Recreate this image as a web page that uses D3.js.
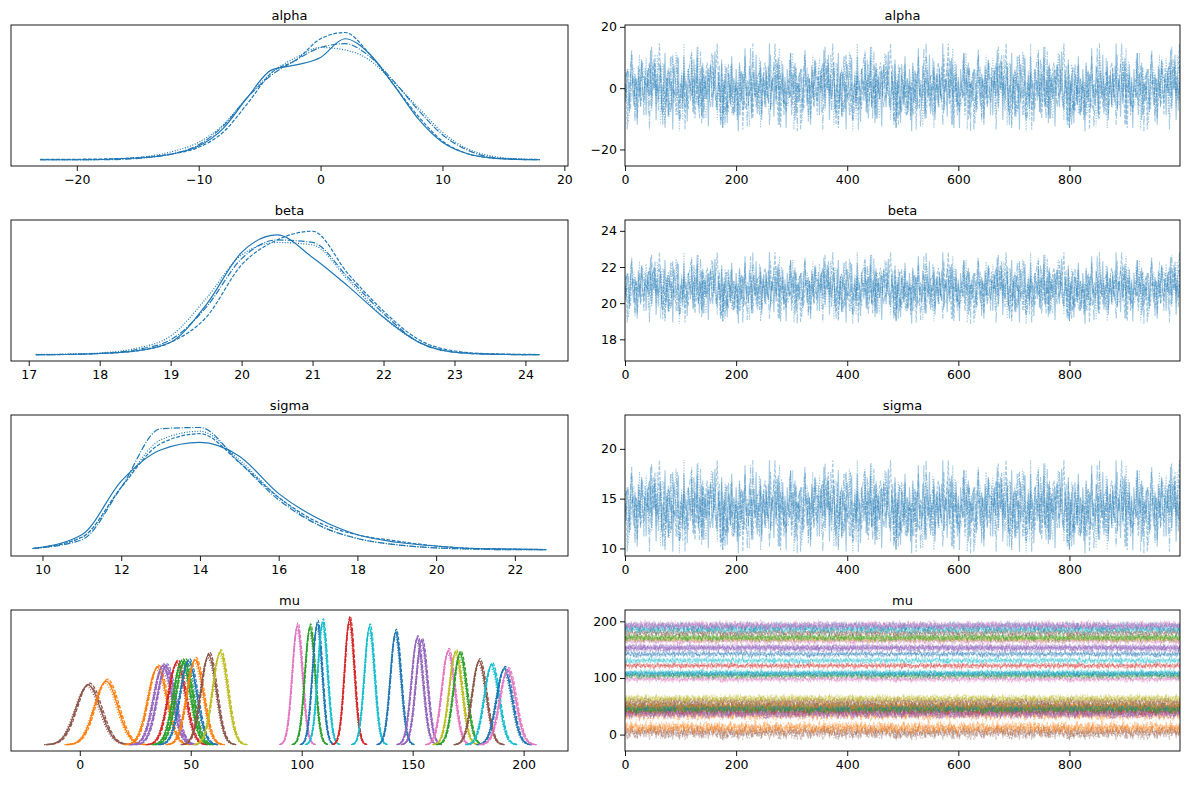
<!DOCTYPE html>
<html>
<head>
<meta charset="utf-8">
<script src="https://cdn.jsdelivr.net/npm/d3@7"></script>
<style>
body{margin:0;background:#fff;}
text{font-family:"DejaVu Sans",sans-serif;}
.tick text{font-size:12.5px;fill:#000;}
.tick line{stroke:#000;stroke-width:0.9;}
</style>
</head>
<body>
<svg id="fig" width="1189" height="789"></svg>
<script>
const tab10 = ["#1f77b4","#ff7f0e","#2ca02c","#d62728","#9467bd","#8c564b","#e377c2","#7f7f7f","#bcbd22","#17becf"];
const dashes = [null,"3.7,1.6","1,1.65","6.4,1.6,1,1.6"];

// kde grids and chain densities (relative height)
const alphaGrid = [-23,-20,-18,-16,-14,-12,-10,-8,-6,-4,-2,0,2,4,6,8,10,12,14,16,18];
const alphaKde = [
  [0,0,0.002,0.01,0.02,0.05,0.11,0.25,0.5,0.72,0.76,0.82,0.97,0.85,0.6,0.33,0.14,0.05,0.015,0.003,0],
  [0.003,0.004,0.006,0.012,0.025,0.05,0.1,0.22,0.45,0.7,0.8,0.97,1.02,0.85,0.6,0.35,0.15,0.05,0.015,0.005,0.002],
  [0,0,0.003,0.01,0.03,0.07,0.14,0.28,0.5,0.7,0.82,0.9,0.88,0.8,0.62,0.42,0.22,0.09,0.03,0.008,0.002],
  [0,0,0,0.005,0.02,0.05,0.12,0.27,0.5,0.68,0.8,0.9,0.93,0.83,0.63,0.4,0.2,0.08,0.02,0.005,0]
];
const betaGrid = [17.1,17.5,18,18.5,19,19.5,20,20.5,21,21.5,22,22.5,23,23.5,24.2];
const betaKde = [
  [0,0.002,0.01,0.03,0.1,0.4,0.82,0.96,0.78,0.55,0.3,0.1,0.02,0.005,0],
  [0,0.002,0.01,0.03,0.1,0.3,0.72,0.92,0.99,0.65,0.35,0.12,0.03,0.008,0.002],
  [0.003,0.005,0.015,0.05,0.15,0.45,0.8,0.9,0.88,0.6,0.3,0.1,0.02,0.005,0],
  [0,0.003,0.01,0.04,0.12,0.38,0.77,0.92,0.9,0.62,0.33,0.1,0.02,0.004,0]
];
const sigmaGrid = [9.75,11,12,13,14,15,16,17,18,19,20,21,22,22.8];
const sigmaKde = [
  [0.01,0.12,0.55,0.8,0.86,0.75,0.45,0.25,0.12,0.06,0.03,0.01,0.005,0],
  [0.01,0.1,0.5,0.85,0.93,0.7,0.42,0.22,0.12,0.07,0.03,0.01,0.005,0.002],
  [0.01,0.1,0.5,0.88,0.95,0.72,0.42,0.2,0.09,0.04,0.015,0.005,0,0],
  [0.01,0.08,0.5,0.97,0.98,0.7,0.4,0.2,0.09,0.04,0.015,0.005,0,0]
];

// mu parameters: centre, spread, peak height, colour index
const muCenter = [3.7,11.8,34.9,37.3,38.8,43.7,45.9,47.1,48.9,51.9,58,63.2,98,103.7,107,109.4,121.5,130.5,142.3,152,154,166,169.3,171.3,179.9,185.5,191.2,192.8];
const muSd     = [5.5,5.2,4.2,4.1,4.0,3.9,3.8,3.8,3.8,3.7,3.5,3.4,2.3,2.3,2.2,2.2,2.2,2.3,2.4,2.6,2.6,2.9,2.9,3.0,3.2,3.3,3.5,3.6];
const muPeak   = [0.48,0.51,0.62,0.63,0.63,0.66,0.67,0.67,0.67,0.68,0.72,0.74,0.95,0.94,0.97,0.98,1.0,0.94,0.9,0.85,0.83,0.75,0.74,0.73,0.67,0.64,0.61,0.6];
const muColor  = [5,1,1,4,4,3,2,2,0,1,5,8,6,2,0,9,3,9,0,4,4,6,8,2,5,9,0,6];
// bell profile at -3.5..3.5 spread units, step 0.5
const muProfile = [0.002,0.011,0.044,0.135,0.325,0.607,0.882,1,0.882,0.607,0.325,0.135,0.044,0.011,0.002];
const chainShift = [0,0.15,-0.1,0.06];
const chainScale = [1,1.03,0.97,1.01];

// trace deviations (typed sequence, reused per chain)
const noise = [0.3,-0.8,1.2,0.1,-1.5,0.6,2.1,-0.4,-1.1,0.9,0.2,-2.3,1.4,-0.6,0.5,1.8,-0.2,-0.9,0.7,-1.7,1.1,0.0,-0.5,2.4,-1.2,0.4,-0.1,1.6,-2.0,0.8,-0.7,0.3,1.3,-1.4,0.2,-0.3,2.2,-0.9,0.6,-1.8,1.0,-0.2,0.4,-2.6,1.5,0.7,-0.6,0.1,1.9,-1.0,-0.4,0.8,-1.3,2.0,-0.1,0.5,-2.1,1.2,0.3,-0.8,1.7,-0.5,-1.6,0.9,0.0,2.6,-1.1,0.6,-0.3,1.4,-1.9,0.2,0.8,-0.7,1.1,-2.4,0.4,1.5,-0.2,-1.2,0.7,2.3,-0.6,-1.4,1.0,0.1,-0.9,1.8,-1.7,0.5,-0.4,1.3,-2.2,0.9,0.3,-1.0,2.0,-0.3,0.6,-1.5,1.2,-0.1,-2.7,1.6,0.4,-0.8,0.9,-1.3,2.5,-0.5,0.2,-1.1,1.4,0.7,-1.9,0.0,1.1,-0.6,2.1,-1.6,0.3,-0.2,1.7,-2.0,0.8,0.5,-1.2,1.3,-0.4,-0.9,2.8,-1.4,0.1,0.6,-1.8,1.0,-0.7,0.4,1.9,-2.3,0.2,-0.3,1.5,-1.0,0.7,-2.5,1.2,0.0,-0.6,2.2,-1.1,0.9,-0.4,1.6,-1.7,0.3];
const chainStride = [1,3,7,11];
const chainStart = [0,37,71,113];

const traceTicks = [0,200,400,600,800];
const params = [
  {name:"alpha", kx:[-25.4,20.3], kt:[-20,-10,0,10,20], ty:[-25.4,20.6], yt:[-20,0,20], mean:0, sd:5.2, grid:alphaGrid, kde:alphaKde},
  {name:"beta", kx:[16.75,24.6], kt:[17,18,19,20,21,22,23,24], ty:[16.8,24.6], yt:[18,20,22,24], mean:20.8, sd:0.72, grid:betaGrid, kde:betaKde},
  {name:"sigma", kx:[9.2,23.35], kt:[10,12,14,16,18,20,22], ty:[9.24,23.4], yt:[10,15,20], mean:14.1, sd:1.7, grid:sigmaGrid, kde:sigmaKde},
  {name:"mu", kx:[-31,220], kt:[0,50,100,150,200], ty:[-29,220], yt:[0,100,200]}
];

const svg = d3.select("#fig");
const L = [11,568], R = [625,1180];
const tops = [25,220,415,610], H = 141;

function traceSeries(mean, sd, c, k) {
  const pts = [];
  for (let i = 0; i < 1000; i += 2) {
    const j = (chainStart[c] + k*13 + (i/2)*chainStride[c]) % noise.length;
    pts.push([i, mean + sd*noise[j]]);
  }
  pts.push([999, mean + sd*noise[(chainStart[c]+k) % noise.length]]);
  return pts;
}

function frame(g, x0, y0, w) {
  g.append("rect").attr("x",x0).attr("y",y0).attr("width",w).attr("height",H)
    .attr("fill","none").attr("stroke","#000").attr("stroke-width",0.9);
}

params.forEach((p, r) => {
  const top = tops[r], bot = top + H;
  const clipL = "cl"+r, clipR = "cr"+r;
  svg.append("clipPath").attr("id",clipL).append("rect").attr("x",L[0]).attr("y",top).attr("width",L[1]-L[0]).attr("height",H);
  svg.append("clipPath").attr("id",clipR).append("rect").attr("x",R[0]).attr("y",top).attr("width",R[1]-R[0]).attr("height",H);

  // left: density
  const x = d3.scaleLinear().domain(p.kx).range(L);
  const y = d3.scaleLinear().domain([-0.05,1.08]).range([bot,top]);
  const gl = svg.append("g").attr("clip-path","url(#"+clipL+")");
  const line = d3.line().x(d=>x(d[0])).y(d=>y(d[1])).curve(d3.curveMonotoneX);
  if (p.kde) {
    p.kde.forEach((vals,c) => {
      gl.append("path").attr("d", line(vals.map((v,i)=>[p.grid[i],v])))
        .attr("fill","none").attr("stroke",tab10[0]).attr("stroke-width",1.2)
        .attr("stroke-dasharray",dashes[c]);
    });
  } else {
    muCenter.forEach((m,k) => {
      for (let c = 0; c < 4; c++) {
        const pts = muProfile.map((v,i)=>[m + (chainShift[c] + (i-7)*0.5)*muSd[k], v*muPeak[k]*chainScale[c]]);
        gl.append("path").attr("d", line(pts)).attr("fill","none")
          .attr("stroke",tab10[muColor[k]]).attr("stroke-width",1.2)
          .attr("stroke-dasharray",dashes[c]);
      }
    });
  }
  svg.append("g").attr("transform","translate(0,"+bot+")")
    .call(d3.axisBottom(x).tickValues(p.kt).tickFormat(d=>d<0?"\u2212"+(-d):d).tickSize(5).tickPadding(4))
    .call(g=>g.select(".domain").remove());
  frame(svg, L[0], top, L[1]-L[0]);
  svg.append("text").attr("x",(L[0]+L[1])/2).attr("y",top-5).attr("text-anchor","middle")
    .attr("font-size",13).text(p.name);

  // right: trace
  const tx = d3.scaleLinear().domain([0,999]).range(R);
  const ty = d3.scaleLinear().domain(p.ty).range([bot,top]);
  const gr = svg.append("g").attr("clip-path","url(#"+clipR+")");
  const tline = d3.line().x(d=>tx(d[0])).y(d=>ty(d[1]));
  if (p.kde) {
    for (let c = 0; c < 4; c++) {
      gr.append("path").attr("d", tline(traceSeries(p.mean, p.sd, c, 0)))
        .attr("fill","none").attr("stroke",tab10[0]).attr("stroke-opacity",0.4)
        .attr("stroke-width",1.1).attr("stroke-dasharray",dashes[c]);
    }
  } else {
    muCenter.forEach((m,k) => {
      for (let c = 0; c < 4; c++) {
        gr.append("path").attr("d", tline(traceSeries(m, muSd[k]*0.9, c, k)))
          .attr("fill","none").attr("stroke",tab10[muColor[k]]).attr("stroke-opacity",0.35)
          .attr("stroke-width",1.1).attr("stroke-dasharray",dashes[c]);
      }
    });
  }
  svg.append("g").attr("transform","translate(0,"+bot+")")
    .call(d3.axisBottom(tx).tickValues(traceTicks).tickSize(5).tickPadding(4))
    .call(g=>g.select(".domain").remove());
  svg.append("g").attr("transform","translate("+R[0]+",0)")
    .call(d3.axisLeft(ty).tickValues(p.yt).tickFormat(d=>d<0?"\u2212"+(-d):d).tickSize(5).tickPadding(3))
    .call(g=>g.select(".domain").remove());
  frame(svg, R[0], top, R[1]-R[0]);
  svg.append("text").attr("x",(R[0]+R[1])/2).attr("y",top-5).attr("text-anchor","middle")
    .attr("font-size",13).text(p.name);
});
</script>
</body>
</html>
